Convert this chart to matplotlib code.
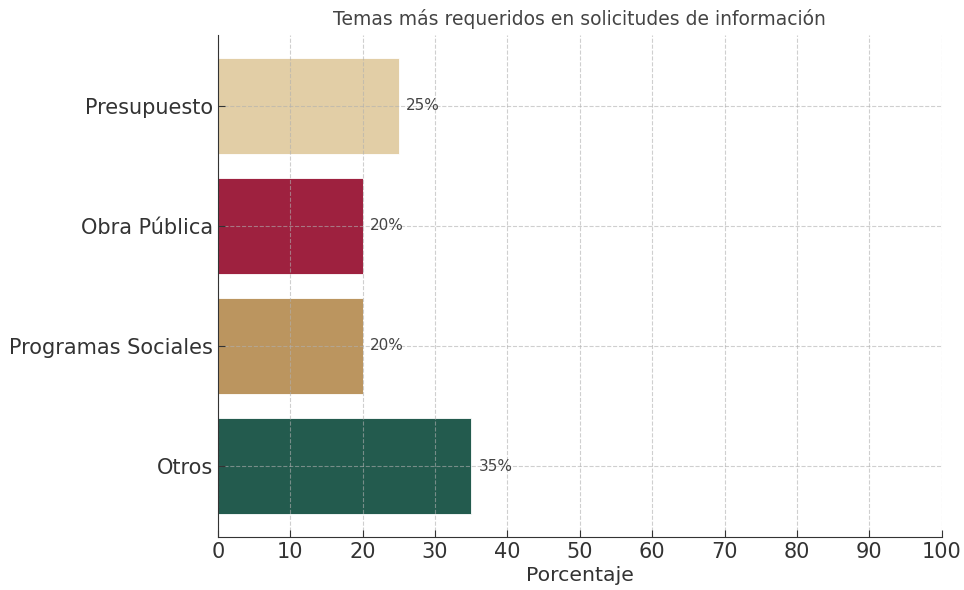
import matplotlib
matplotlib.use("Agg")
import matplotlib.pyplot as plt

# --- Data ---
categories = ["Otros", "Programas Sociales", "Obra Pública", "Presupuesto"]
values = [35, 20, 20, 25]
colors = ["#235B4E", "#BB955F", "#9E213F", "#E2CEA6"]
x_ticks = list(range(0, 101, 10))

fig = plt.figure(figsize=(9.64, 5.9), dpi=100)
ax = fig.add_axes([0.226, 0.09, 0.751, 0.851])

bars = ax.barh(categories, values, color=colors, height=0.8, edgecolor="white", linewidth=0.6, zorder=1)

for bar, v in zip(bars, values):
    ax.text(bar.get_width() + 1, bar.get_y() + bar.get_height() / 2, f"{v}%",
            va="center", ha="left", fontsize=11, color="#444444")

ax.set_xlim(0, 100)
ax.set_xticks(x_ticks)
ax.set_xlabel("Porcentaje", fontsize=14.7, color="#333333", labelpad=3)
ax.set_title("Temas más requeridos en solicitudes de información", fontsize=13.5,
             color="#444444", pad=7)

# grid sits over the bars, faded
ax.grid(True, linestyle="--", color="#b0b0b0", linewidth=0.8, alpha=0.6)
ax.set_axisbelow(False)
ax.tick_params(axis="both", direction="in", labelsize=15, colors="#333333", length=5)
ax.spines["top"].set_visible(False)
ax.spines["right"].set_visible(False)
for side in ("left", "bottom"):
    ax.spines[side].set_color("#333333")
    ax.spines[side].set_zorder(3)

fig.savefig("out.png", dpi=100)
